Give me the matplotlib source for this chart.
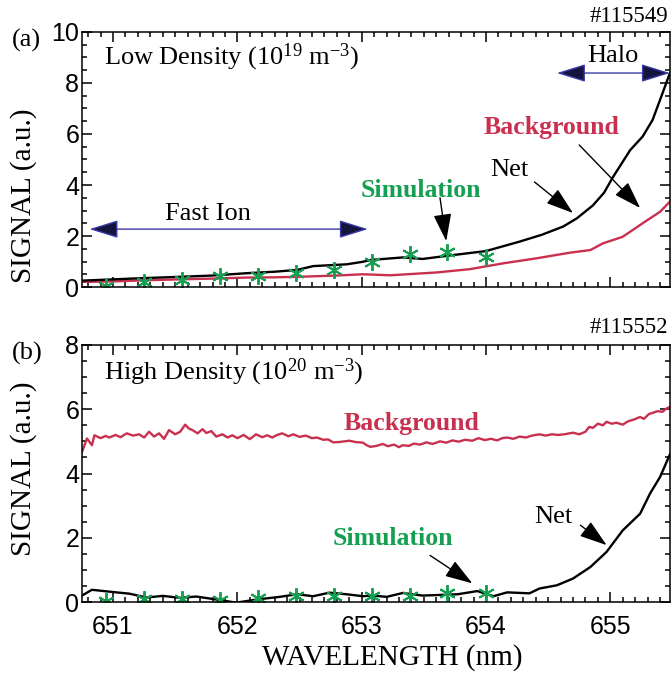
import matplotlib
matplotlib.use("Agg")
import matplotlib.pyplot as plt
from matplotlib.ticker import MultipleLocator

plt.rcParams['font.family'] = ['Liberation Serif', 'DejaVu Serif']
plt.rcParams['mathtext.fontset'] = 'custom'
plt.rcParams['mathtext.rm'] = 'Liberation Serif'
plt.rcParams['mathtext.it'] = 'Liberation Serif:italic'

RED = '#c9304f'
GREEN = '#14a050'
NAVY_LINE = '#3a3aa8'
NAVY_HEAD = '#14143c'

# (a) low density, shot #115549
net_a_x = [650.75, 651.0, 651.25, 651.54, 651.8, 652.07, 652.3, 652.48, 652.61, 652.88,
           653.01, 653.07, 653.33, 653.49, 653.73, 654.0, 654.27, 654.45, 654.62, 654.73,
           654.86, 654.95, 655.02, 655.16, 655.26, 655.34, 655.42, 655.48]
net_a_y = [0.25, 0.3, 0.35, 0.4, 0.45, 0.54, 0.6, 0.67, 0.82, 0.89,
           0.99, 1.06, 1.16, 1.1, 1.25, 1.41, 1.78, 2.05, 2.37, 2.69,
           3.2, 3.7, 4.3, 5.37, 5.9, 6.55, 7.6, 8.4]
bg_a_x = [650.75, 651.0, 651.3, 651.54, 651.8, 652.07, 652.3, 652.48, 652.8, 653.01,
          653.23, 653.6, 653.87, 654.14, 654.4, 654.68, 654.84, 654.94, 655.1, 655.26,
          655.4, 655.48]
bg_a_y = [0.2, 0.22, 0.27, 0.3, 0.33, 0.37, 0.38, 0.4, 0.45, 0.5,
          0.46, 0.57, 0.7, 0.93, 1.12, 1.35, 1.45, 1.71, 1.97, 2.5,
          2.95, 3.35]

sim_x = [650.945, 651.25, 651.555, 651.86, 652.165, 652.47, 652.775, 653.08, 653.39, 653.69, 654.0]
sim_a_y = [0.05, 0.2, 0.27, 0.42, 0.42, 0.54, 0.68, 0.97, 1.28, 1.38, 1.18]

# (b) high density, shot #115552
net_b_x = [650.75, 650.83, 651.0, 651.13, 651.27, 651.4, 651.54, 651.67, 651.86, 651.99,
           652.16, 652.34, 652.48, 652.61, 652.74, 652.88, 653.01, 653.09, 653.2, 653.33,
           653.49, 653.77, 653.93, 654.06, 654.17, 654.35, 654.43, 654.57, 654.7, 654.84,
           654.97, 655.1, 655.24, 655.32, 655.4, 655.48]
net_b_y = [0.2, 0.38, 0.31, 0.26, 0.14, 0.19, 0.13, 0.17, 0.06, -0.02,
           0.08, 0.16, 0.24, 0.18, 0.29, 0.24, 0.18, 0.2, 0.16, 0.28,
           0.2, 0.24, 0.34, 0.18, 0.3, 0.27, 0.42, 0.52, 0.73, 1.09,
           1.56, 2.23, 2.75, 3.38, 3.89, 4.6]
bg_b_x = [650.75, 650.79, 650.83, 650.85, 650.90, 650.94, 650.97, 651.02, 651.06, 651.11,
          651.16, 651.21, 651.25, 651.29, 651.33, 651.37, 651.41, 651.45, 651.50, 651.54,
          651.58, 651.61, 651.64, 651.68, 651.72, 651.75, 651.79, 651.83, 651.88, 651.92,
          651.96, 652.00, 652.05, 652.10, 652.15, 652.20, 652.24, 652.28, 652.32, 652.36,
          652.41, 652.45, 652.50, 652.55, 652.60, 652.64, 652.69, 652.73, 652.77, 652.82,
          652.86, 652.90, 652.95, 653.01, 653.04, 653.07, 653.12, 653.17, 653.21, 653.26,
          653.30, 653.33, 653.38, 653.42, 653.47, 653.52, 653.57, 653.63, 653.68, 653.73,
          653.78, 653.83, 653.89, 653.94, 653.99, 654.04, 654.09, 654.13, 654.17, 654.22,
          654.27, 654.32, 654.37, 654.43, 654.48, 654.53, 654.58, 654.63, 654.70, 654.75,
          654.80, 654.83, 654.86, 654.90, 654.94, 654.97, 655.01, 655.05, 655.10, 655.14,
          655.19, 655.24, 655.27, 655.31, 655.35, 655.38, 655.42, 655.45, 655.48]
bg_b_y = [4.67, 5.09, 4.88, 5.19, 5.10, 5.17, 5.12, 5.20, 5.13, 5.25,
          5.18, 5.22, 5.12, 5.30, 5.15, 5.25, 5.08, 5.35, 5.22, 5.30,
          5.52, 5.40, 5.35, 5.25, 5.38, 5.26, 5.32, 5.15, 5.22, 5.12,
          5.19, 5.10, 5.20, 5.07, 5.22, 5.13, 5.19, 5.12, 5.20, 5.25,
          5.16, 5.22, 5.14, 5.18, 5.10, 5.12, 5.05, 5.06, 4.97, 4.98,
          5.00, 5.02, 4.98, 4.96, 4.88, 4.83, 4.86, 4.92, 4.85, 4.90,
          4.82, 4.88, 4.86, 4.93, 4.90, 4.97, 4.92, 5.00, 4.96, 5.03,
          4.99, 5.05, 5.02, 5.10, 5.04, 5.08, 5.03, 5.10, 5.12, 5.08,
          5.15, 5.12, 5.18, 5.22, 5.18, 5.22, 5.20, 5.22, 5.27, 5.22,
          5.30, 5.45, 5.42, 5.55, 5.50, 5.61, 5.55, 5.58, 5.52, 5.62,
          5.68, 5.76, 5.70, 5.85, 5.90, 5.94, 5.92, 6.02, 6.07]
sim_b_y = [0.03, 0.08, 0.08, 0.07, 0.12, 0.2, 0.2, 0.18, 0.2, 0.27, 0.27]

x_ticks = [651, 652, 653, 654, 655]

fig = plt.figure(figsize=(6.72, 6.79), dpi=100)
ax1 = fig.add_axes([0.122, 0.5773, 0.875, 0.3756])
ax2 = fig.add_axes([0.122, 0.1134, 0.875, 0.3785])

star = (6, 2, 0)


def style(ax, ymax):
    ax.set_xlim(650.75, 655.48)
    ax.set_ylim(0, ymax)
    ax.set_xticks(x_ticks)
    ax.xaxis.set_minor_locator(MultipleLocator(0.1))
    ax.yaxis.set_major_locator(MultipleLocator(2))
    ax.yaxis.set_minor_locator(MultipleLocator(0.5))
    ax.tick_params(which='both', direction='in', top=True, right=True, width=1.1)
    ax.tick_params(which='major', length=7)
    ax.tick_params(which='minor', length=3.5)
    ax.tick_params(axis='y', pad=2)
    ax.tick_params(axis='x', pad=9)
    for lab in ax.get_xticklabels() + ax.get_yticklabels():
        lab.set_fontfamily('Liberation Sans')
        lab.set_fontsize(18)
    for s in ax.spines.values():
        s.set_linewidth(1.1)
    ax.set_ylabel('SIGNAL (a.u.)', fontsize=21)


def arrow(ax, start, end, double=False):
    if double:
        ax.annotate('', xy=end, xytext=start,
                    arrowprops=dict(arrowstyle='<|-|>,head_length=0.9,head_width=0.28',
                                    fc=NAVY_HEAD, ec=NAVY_LINE, lw=1.0,
                                    mutation_scale=20, shrinkA=0, shrinkB=0))
    else:
        ax.annotate('', xy=end, xytext=start,
                    arrowprops=dict(arrowstyle='-|>,head_length=0.85,head_width=0.28',
                                    fc='black', ec='black', lw=1.0,
                                    mutation_scale=20, shrinkA=0, shrinkB=0))


# panel (a)
ax1.plot(bg_a_x, bg_a_y, color=RED, lw=1.7)
ax1.plot(net_a_x, net_a_y, color='black', lw=1.7)
ax1.plot(sim_x, sim_a_y, ls='none', marker=star, ms=12, mew=1.4, color=GREEN)
style(ax1, 10)
ax1.tick_params(axis='x', labelbottom=False)
ax1.yaxis.set_label_coords(-0.077, 0.357)

ax1.text(650.93, 9.0, r'Low Density (10$^{19}$ m$^{-3}$)', fontsize=19, ha='left', va='center')
ax1.text(655.02, 9.06, 'Halo', fontsize=19, ha='center', va='center')
arrow(ax1, (654.57, 8.39), (655.48, 8.39), double=True)
ax1.text(651.76, 2.86, 'Fast Ion', fontsize=19, ha='center', va='center')
arrow(ax1, (650.81, 2.27), (653.05, 2.27), double=True)
ax1.text(653.48, 3.8, 'Simulation', fontsize=18.5, fontweight='bold', color=GREEN,
         ha='center', va='center')
arrow(ax1, (653.63, 3.5), (653.68, 1.8))
ax1.text(654.19, 4.59, 'Net', fontsize=19, ha='center', va='center')
arrow(ax1, (654.39, 4.12), (654.70, 2.9))
ax1.text(654.53, 6.27, 'Background', fontsize=18.5, fontweight='bold', color=RED,
         ha='center', va='center')
arrow(ax1, (654.75, 5.57), (655.24, 3.1))

# panel (b)
ax2.plot(bg_b_x, bg_b_y, color=RED, lw=1.7)
ax2.plot(net_b_x, net_b_y, color='black', lw=1.7)
ax2.plot(sim_x, sim_b_y, ls='none', marker=star, ms=12, mew=1.4, color=GREEN)
style(ax2, 8)
ax2.yaxis.set_label_coords(-0.077, 0.517)
ax2.set_xlabel('WAVELENGTH (nm)', fontsize=21)
ax2.xaxis.set_label_coords(0.527, -0.165)

ax2.text(650.93, 7.16, r'High Density (10$^{20}$ m$^{-3}$)', fontsize=19, ha='left', va='center')
ax2.text(653.40, 5.57, 'Background', fontsize=18.5, fontweight='bold', color=RED,
         ha='center', va='center')
ax2.text(653.25, 1.98, 'Simulation', fontsize=18.5, fontweight='bold', color=GREEN,
         ha='center', va='center')
arrow(ax2, (653.55, 1.45), (653.89, 0.58))
ax2.text(654.54, 2.64, 'Net', fontsize=19, ha='center', va='center')
arrow(ax2, (654.76, 2.39), (654.97, 1.77))

fig.text(0.018, 0.941, '(a)', fontsize=19, ha='left', va='center')
fig.text(0.018, 0.480, '(b)', fontsize=19, ha='left', va='center')
fig.text(0.994, 0.976, '#115549', fontsize=16.5, ha='right', va='center')
fig.text(0.994, 0.517, '#115552', fontsize=16.5, ha='right', va='center')

fig.savefig('out.png', dpi=100)
